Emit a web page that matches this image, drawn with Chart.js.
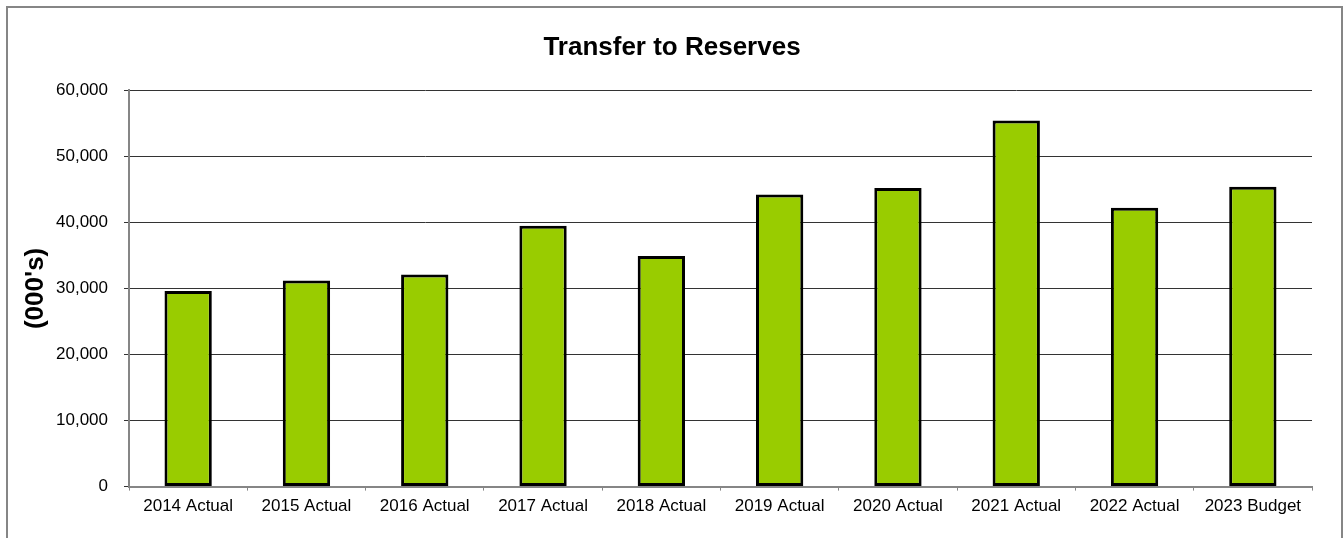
<!DOCTYPE html>
<html>
<head>
<meta charset="utf-8">
<title>Transfer to Reserves</title>
<script src="https://cdn.jsdelivr.net/npm/chart.js@4.4.1/dist/chart.umd.min.js"></script>
<style>
  html, body { margin: 0; padding: 0; background: #fff; }
  #wrap { width: 1344px; height: 538px; position: relative; }
</style>
</head>
<body>
<div id="wrap"><canvas id="graph"></canvas></div>
<script>
// transfers per year, in thousands
let years = ["2014 Actual", "2015 Actual", "2016 Actual", "2017 Actual", "2018 Actual",
             "2019 Actual", "2020 Actual", "2021 Actual", "2022 Actual", "2023 Budget"];
let transfers = [29600, 31200, 32100, 39500, 34900, 44200, 45200, 55400, 42200, 45400];
let yTicks = [0, 10000, 20000, 30000, 40000, 50000, 60000];

const fontFamily = "'Liberation Sans', Arial, sans-serif";

// grey frame around the whole chart
const frame = {
  id: "frame",
  beforeDraw(chart) {
    const ctx = chart.ctx;
    ctx.save();
    ctx.strokeStyle = "#868686";
    ctx.lineWidth = 2;
    ctx.strokeRect(7, 7, 1335, 600);
    ctx.restore();
  },
};

let mychart = new Chart(document.getElementById("graph"), {
  type: "bar",
  data: {
    labels: years,
    datasets: [
      {
        label: "Transfer to Reserves",
        data: transfers,
        backgroundColor: "#99cc00",
        borderColor: "#000000",
        borderWidth: 3,
        borderSkipped: false,
        categoryPercentage: 1,
        barPercentage: 0.4,
      },
    ],
  },
  options: {
    responsive: true,
    maintainAspectRatio: false,
    animation: false,
    layout: { padding: { left: 0, right: 0, top: 0, bottom: 15 } },
    plugins: {
      legend: { display: false },
      tooltip: { enabled: false },
      title: {
        display: true,
        text: "Transfer to Reserves",
        color: "#000",
        font: { family: fontFamily, size: 26, weight: "bold", lineHeight: 1.2 },
        padding: { top: 32, bottom: 27 },
      },
    },
    scales: {
      x: {
        grid: { display: true, drawOnChartArea: false, offset: true, tickLength: 4, color: "#868686" },
        border: { color: "#868686", width: 2 },
        ticks: {
          color: "#000",
          padding: 6,
          maxRotation: 0,
          autoSkip: false,
          font: { family: fontFamily, size: 17 },
        },
      },
      y: {
        min: 0,
        max: 60000,
        afterBuildTicks: (scale) => { scale.ticks = yTicks.map((v) => ({ value: v })); },
        afterFit: (scale) => { scale.width = 129; },
        grid: { color: "#333333", lineWidth: 1, tickLength: 5, tickColor: "#333333" },
        border: { color: "#868686", width: 2 },
        ticks: {
          color: "#000",
          padding: 16,
          font: { family: fontFamily, size: 17 },
          callback: (v) => v.toLocaleString("en-US"),
        },
        title: {
          display: true,
          text: "(000's)",
          color: "#000",
          font: { family: fontFamily, size: 26, weight: "bold", lineHeight: 1.2 },
          padding: { top: 20, bottom: 0 },
        },
      },
      // empty right-hand axis, keeps space to the right of the plot
      yRight: {
        position: "right",
        display: true,
        grid: { display: false },
        border: { display: false },
        ticks: { display: false },
        afterFit: (scale) => { scale.width = 32; },
      },
    },
  },
  plugins: [frame],
});
</script>
</body>
</html>
